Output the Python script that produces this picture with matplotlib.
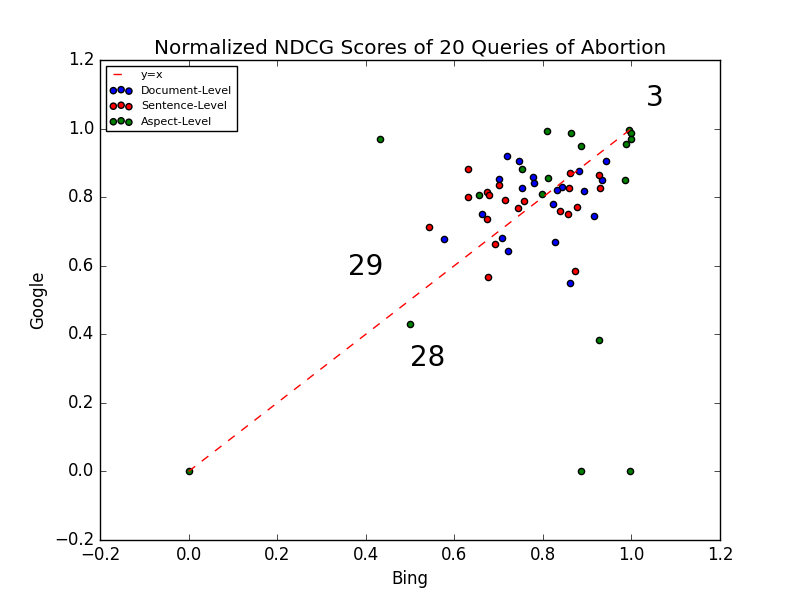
import numpy as np
import matplotlib
matplotlib.use("Agg")
import matplotlib.pyplot as plt

plt.style.use("classic")

doc_bing = [0.720, 0.747, 0.702, 0.778, 0.781, 0.753, 0.881, 0.942, 0.933, 0.844,
            0.832, 0.893, 0.823, 0.915, 0.663, 0.577, 0.708, 0.722, 0.828, 0.862]
doc_google = [0.920, 0.904, 0.852, 0.859, 0.840, 0.826, 0.875, 0.904, 0.849, 0.831,
              0.820, 0.817, 0.779, 0.744, 0.750, 0.678, 0.681, 0.642, 0.668, 0.549]

sent_bing = [0.630, 0.862, 0.927, 0.674, 0.679, 0.702, 0.632, 0.715, 0.758, 0.744,
             0.860, 0.930, 0.839, 0.857, 0.878, 0.674, 0.543, 0.692, 0.677, 0.872]
sent_google = [0.881, 0.869, 0.864, 0.814, 0.805, 0.834, 0.800, 0.791, 0.788, 0.767,
               0.826, 0.826, 0.760, 0.751, 0.770, 0.735, 0.713, 0.663, 0.568, 0.584]

asp_bing = [0.810, 0.864, 0.887, 0.995, 1.000, 1.000, 0.987, 0.753, 0.812, 0.797,
            0.656, 0.986, 0.433, 0.500, 0.886, 0.997, 0.927, 0.0]
asp_google = [0.994, 0.986, 0.949, 0.995, 0.986, 0.969, 0.955, 0.881, 0.855, 0.809,
              0.806, 0.850, 0.969, 0.431, 0.0, 0.0, 0.384, 0.0]

labels = ["3", "29", "28"]
label_pos = [(1.053, 1.088), (0.40, 0.595), (0.54, 0.33)]

fig = plt.figure(figsize=(8, 6), dpi=100)
ax = fig.add_subplot(111)

ax.plot([0, 1], [0, 1], "r--", label="y=x")
ax.scatter(doc_bing, doc_google, c="b", s=20, label="Document-Level")
ax.scatter(sent_bing, sent_google, c="r", s=20, label="Sentence-Level")
ax.scatter(asp_bing, asp_google, c="g", s=20, label="Aspect-Level")

for t, (x, y) in zip(labels, label_pos):
    ax.text(x, y, t, fontsize=20, ha="center", va="center")

ax.set_xlim(-0.2, 1.2)
ax.set_ylim(-0.2, 1.2)
ax.set_xlabel("Bing")
ax.set_ylabel("Google")
ax.set_title("Normalized NDCG Scores of 20 Queries of Abortion")
ax.legend(loc="upper left", fontsize=8, scatterpoints=3)

plt.savefig("out.png", dpi=100)
